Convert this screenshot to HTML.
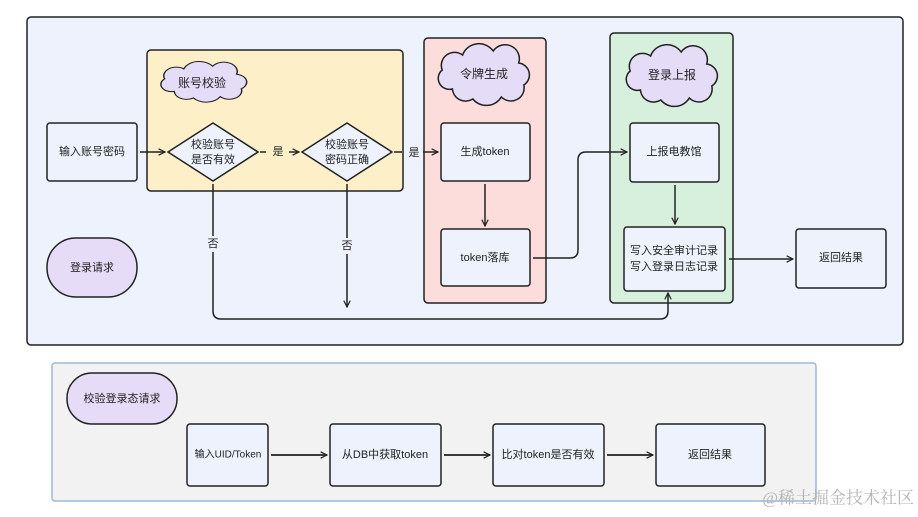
<!DOCTYPE html>
<html><head><meta charset="utf-8"><style>
html,body{margin:0;padding:0;background:#fff;}
svg{display:block;}
text{font-family:"Liberation Sans","Noto Sans CJK SC",sans-serif;font-size:11px;fill:#222;text-anchor:middle;dominant-baseline:central;}
</style></head><body>
<svg width="918" height="517" viewBox="0 0 918 517" xmlns="http://www.w3.org/2000/svg">
<defs>
<marker id="ar" viewBox="0 0 10 10" refX="9" refY="5" markerWidth="8" markerHeight="8" orient="auto" markerUnits="userSpaceOnUse"><path d="M1,1 L9,5 L1,9" fill="none" stroke="#222" stroke-width="1.5"/></marker>
<path id="cloud" d="M20,46 A11,11 0 0 1 10,27 A13,13 0 0 1 30,12 A17,17 0 0 1 60,8 A14,14 0 0 1 85,20 A12,12 0 0 1 90,42 A13,13 0 0 1 68,54 A17,17 0 0 1 40,56 A13,13 0 0 1 20,46 Z"/>
</defs>
<rect x="27" y="17" width="876" height="328" rx="4" fill="#edf2fc" stroke="#222" stroke-width="1.5"/>
<rect x="147" y="50" width="256" height="141" rx="4" fill="#fdf0c8" stroke="#222" stroke-width="1.5"/>
<rect x="424" y="38" width="122" height="265" rx="4" fill="#fddcdc" stroke="#222" stroke-width="1.5"/>
<rect x="610" y="33" width="123" height="270" rx="4" fill="#d7f0dd" stroke="#222" stroke-width="1.5"/>

<g fill="#e5dcf8" stroke="#222" stroke-width="1.5">
<use href="#cloud" transform="translate(155,61) scale(0.96,0.66)"/>
<use href="#cloud" transform="translate(432,43) scale(1.02,1.0)"/>
<use href="#cloud" transform="translate(620,44) scale(1.02,1.0)"/>
</g>
<text x="202" y="83" style="font-size:12px">账号校验</text>
<text x="484" y="74" style="font-size:12px">令牌生成</text>
<text x="672" y="75" style="font-size:12px">登录上报</text>

<g fill="#edf2fc" stroke="#222" stroke-width="1.5">
<rect x="47" y="123" width="90" height="58" rx="3"/>
<polygon points="168,152 213,123 258,152 213,181"/>
<polygon points="302,152 347,123 392,152 347,181"/>
<rect x="441" y="123" width="89" height="58" rx="3"/>
<rect x="441" y="229" width="89" height="57" rx="3"/>
<rect x="630" y="123" width="89" height="59" rx="3"/>
<rect x="624" y="227" width="101" height="64" rx="3"/>
<rect x="796" y="229" width="90" height="59" rx="3"/>
</g>
<rect x="47" y="238" width="90" height="59" rx="29" fill="#e6dcf8" stroke="#222" stroke-width="1.5"/>

<text x="92" y="152">输入账号密码</text>
<text x="213" y="145">校验账号</text><text x="213" y="160">是否有效</text>
<text x="347" y="145">校验账号</text><text x="347" y="160">密码正确</text>
<text x="485" y="152">生成token</text>
<text x="485" y="258">token落库</text>
<text x="674" y="152">上报电教馆</text>
<text x="674" y="251">写入安全审计记录</text><text x="674" y="267">写入登录日志记录</text>
<text x="841" y="258">返回结果</text>
<text x="92" y="268">登录请求</text>

<g fill="none" stroke="#222" stroke-width="1.5">
<line x1="140" y1="152" x2="165" y2="152" marker-end="url(#ar)"/>
<line x1="260" y1="152" x2="266" y2="152"/>
<line x1="289" y1="152" x2="299" y2="152" marker-end="url(#ar)"/>
<line x1="394" y1="152" x2="402" y2="152"/>
<line x1="423" y1="152" x2="438" y2="152" marker-end="url(#ar)"/>
<path d="M213,184 V236 M213,252 V311 Q213,319 221,319 H660 Q668,319 668,311 V293" marker-end="url(#ar)"/>
<line x1="347" y1="184" x2="347" y2="238"/>
<line x1="347" y1="254" x2="347" y2="307" marker-end="url(#ar)"/>
<line x1="485" y1="184" x2="485" y2="226" marker-end="url(#ar)"/>
<path d="M533,258 H570 Q578,258 578,250 V160 Q578,152 586,152 H627" marker-end="url(#ar)"/>
<line x1="675" y1="185" x2="675" y2="224" marker-end="url(#ar)"/>
<line x1="729" y1="259" x2="793" y2="259" marker-end="url(#ar)"/>
</g>
<text x="278" y="152">是</text>
<text x="414" y="153">是</text>
<text x="213" y="244">否</text>
<text x="347" y="246">否</text>

<rect x="52" y="363" width="764" height="138" rx="3" fill="#f2f2f2" stroke="#9fb6dc" stroke-width="1.5"/>
<rect x="67" y="373" width="110" height="51" rx="25" fill="#e6dcf8" stroke="#222" stroke-width="1.5"/>
<text x="122" y="399">校验登录态请求</text>
<g fill="#edf2fc" stroke="#222" stroke-width="1.5">
<rect x="187" y="424" width="81" height="62" rx="3"/>
<rect x="330" y="424" width="111" height="62" rx="3"/>
<rect x="493" y="424" width="111" height="62" rx="3"/>
<rect x="656" y="424" width="109" height="62" rx="3"/>
</g>
<text x="228" y="455" style="font-size:10px">输入UID/Token</text>
<text x="385" y="455">从DB中获取token</text>
<text x="548" y="455">比对token是否有效</text>
<text x="710" y="455">返回结果</text>
<g fill="none" stroke="#222" stroke-width="1.8">
<line x1="271" y1="455" x2="327" y2="455" marker-end="url(#ar)"/>
<line x1="444" y1="455" x2="490" y2="455" marker-end="url(#ar)"/>
<line x1="607" y1="455" x2="653" y2="455" marker-end="url(#ar)"/>
</g>
<text x="914" y="498" style="font-size:17px;fill:#b4b4b4;text-anchor:end;font-family:'Liberation Serif','Noto Serif CJK SC',serif">@稀土掘金技术社区</text>
</svg>
</body></html>
